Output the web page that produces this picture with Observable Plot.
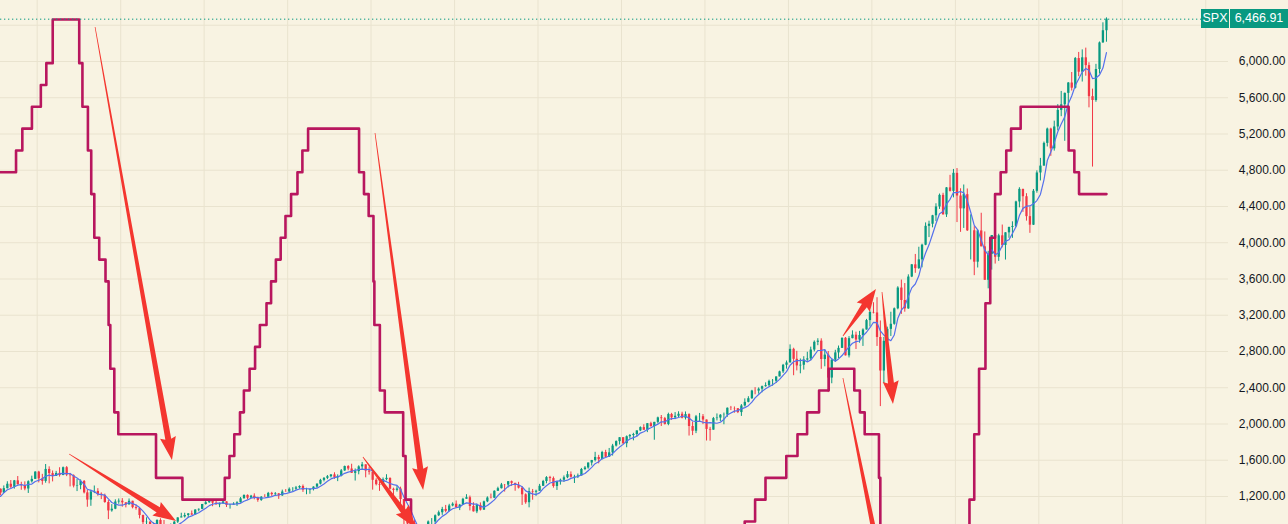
<!DOCTYPE html>
<html>
<head>
<meta charset="utf-8">
<script src="https://cdn.jsdelivr.net/npm/d3@7"></script>
<script src="https://cdn.jsdelivr.net/npm/@observablehq/plot@0.6"></script>
<style>
  html, body { margin: 0; padding: 0; background: #f8f3e2; }
  #wrap { position: relative; width: 1288px; height: 524px; overflow: hidden; background: #f8f3e2; font-family: "Liberation Sans", "DejaVu Sans", sans-serif; }
  .badge { position: absolute; height: 19px; line-height: 19px; color: #ffffff; background: #089981; font-size: 12.5px; text-align: center; }
</style>
</head>
<body>
<div id="wrap"></div>
<script>
// ---------------- data ----------------
// Monthly S&P 500 candles, Oct 1998 .. Aug 2025
const firstMonth = "1998-10-01";
const spxOpen = [
  1017.0,1098.7,1163.6,
  1229.2,1279.6,1238.3,1286.4,1335.2,1301.8,1372.7,1328.7,1320.4,1282.7,1362.9,1389.0,
  1469.3,1394.5,1366.4,1498.6,1452.4,1420.6,1454.6,1430.8,1517.7,1436.5,1429.4,1315.2,
  1320.3,1366.0,1239.9,1160.3,1249.5,1255.8,1224.4,1211.2,1133.6,1040.9,1059.8,1139.5,
  1148.1,1130.2,1106.7,1147.4,1076.9,1067.1,989.8,911.6,916.1,815.3,885.8,936.3,
  879.8,855.7,841.2,848.2,916.9,963.6,974.5,990.3,1008.0,996.0,1050.7,1058.2,
  1111.9,1131.1,1144.9,1126.2,1107.3,1120.7,1140.8,1101.7,1104.2,1114.6,1130.2,1173.8,
  1211.9,1181.3,1203.6,1180.6,1156.9,1191.5,1191.3,1234.2,1220.3,1228.8,1207.0,1249.5,
  1248.3,1280.1,1280.7,1294.8,1310.6,1270.1,1270.2,1276.7,1303.8,1335.9,1377.9,1400.6,
  1418.3,1438.2,1406.8,1420.9,1482.4,1530.6,1503.4,1455.3,1474.0,1526.8,1549.4,1481.1,
  1468.4,1378.6,1330.6,1322.7,1385.6,1400.4,1280.0,1267.4,1282.8,1166.4,968.8,896.2,
  903.3,825.9,735.1,797.9,872.8,919.1,919.3,987.5,1020.6,1057.1,1036.2,1095.6,
  1115.1,1073.9,1104.5,1169.4,1186.7,1089.4,1030.7,1101.6,1049.3,1141.2,1183.3,1180.6,
  1257.6,1286.1,1327.2,1325.8,1363.6,1345.2,1320.6,1292.3,1218.9,1131.4,1253.3,1247.0,
  1257.6,1312.4,1365.7,1408.5,1397.9,1310.3,1362.2,1379.3,1406.6,1440.7,1412.2,1416.2,
  1426.2,1498.1,1514.7,1569.2,1597.6,1630.7,1606.3,1685.7,1633.0,1681.6,1756.5,1805.8,
  1848.4,1782.6,1859.5,1872.3,1883.9,1923.6,1960.2,1930.7,2003.4,1972.3,2018.1,2067.6,
  2058.9,1995.0,2104.5,2067.9,2085.5,2107.4,2063.1,2104.0,1972.2,1920.0,2079.4,2080.4,
  2043.9,1940.2,1932.2,2059.7,2065.3,2096.9,2098.9,2173.6,2170.9,2168.3,2126.2,2198.8,
  2238.8,2278.9,2363.6,2362.7,2384.2,2411.8,2423.4,2470.3,2471.7,2519.4,2575.3,2647.6,
  2673.6,2823.8,2713.8,2640.9,2648.1,2705.3,2718.4,2816.3,2901.5,2914.0,2711.7,2760.2,
  2506.9,2704.1,2784.5,2834.4,2945.8,2752.1,2941.8,2980.4,2926.5,2976.7,3037.6,3141.0,
  3230.8,3225.5,2954.2,2584.6,2912.4,3044.3,3100.3,3271.1,3500.3,3363.0,3270.0,3621.6,
  3756.1,3714.2,3811.2,3972.9,4181.2,4204.1,4297.5,4395.3,4522.7,4307.5,4605.4,4567.0,
  4766.2,4515.6,4373.9,4530.4,4131.9,4132.2,3785.4,4130.3,3955.0,3585.6,3872.0,4080.1,
  3839.5,4076.6,3970.2,4109.3,4169.5,4179.8,4450.4,4589.0,4507.7,4288.1,4193.8,4567.8,
  4769.8,4845.7,5096.3,5254.4,5035.7,5277.5,5460.5,5522.3,5648.4,5762.5,5705.5,6032.4,
  5881.6,6040.5,5954.5,5611.9,5569.1,5911.7,6205.0,6339.4
];
const spxHigh = [
  1103.8,1193.0,1244.9,
  1280.4,1283.8,1316.6,1362.8,1376.0,1376.8,1420.3,1357.2,1361.7,1373.2,1424.6,1473.1,
  1478.0,1444.6,1552.9,1527.2,1481.5,1477.3,1517.3,1525.2,1530.1,1454.8,1438.5,1389.1,
  1383.4,1376.4,1267.4,1269.3,1315.9,1286.6,1239.8,1226.3,1155.4,1110.6,1163.4,1173.0,
  1176.6,1130.2,1173.0,1147.8,1106.6,1070.0,994.5,965.0,924.0,907.4,941.8,954.3,
  935.1,864.6,895.9,924.2,965.4,1015.3,1015.4,1011.0,1040.3,1053.8,1063.7,1112.6,
  1155.4,1159.0,1163.2,1150.6,1127.7,1146.3,1140.8,1109.7,1131.5,1142.1,1188.5,1217.3,
  1217.8,1212.4,1229.1,1191.9,1199.6,1219.6,1245.2,1245.9,1243.1,1233.3,1270.6,1275.8,
  1294.9,1297.6,1310.9,1318.2,1326.7,1290.7,1280.4,1306.7,1340.3,1389.5,1407.9,1431.8,
  1441.6,1461.6,1438.9,1498.0,1535.6,1540.6,1555.9,1503.9,1538.7,1576.1,1550.0,1523.6,
  1471.8,1396.0,1359.7,1404.6,1440.2,1404.1,1292.2,1313.2,1303.0,1167.0,1007.5,918.9,
  943.8,875.0,833.0,877.6,930.2,956.2,996.7,1039.5,1080.2,1101.4,1113.7,1130.4,
  1150.5,1112.4,1180.2,1219.8,1205.1,1131.2,1115.8,1129.2,1148.7,1196.1,1227.1,1262.6,
  1302.7,1344.1,1332.3,1364.6,1370.6,1345.2,1356.5,1307.4,1229.3,1293.0,1277.6,1269.4,
  1333.5,1378.0,1419.2,1422.4,1415.3,1363.5,1391.7,1426.7,1474.5,1471.0,1434.3,1448.0,
  1509.9,1530.9,1570.3,1597.6,1687.2,1654.2,1698.8,1709.7,1730.0,1775.2,1813.6,1849.4,
  1850.8,1867.9,1884.0,1897.3,1924.0,1968.2,1991.4,2005.0,2019.3,2018.2,2075.8,2093.6,
  2072.4,2119.6,2117.5,2125.9,2134.7,2129.9,2132.8,2112.7,2020.9,2094.3,2116.5,2104.3,
  2044.0,1963.0,2072.2,2111.1,2103.5,2120.6,2177.1,2193.8,2187.9,2169.6,2214.1,2277.5,
  2301.0,2371.5,2401.0,2398.2,2418.7,2453.8,2484.0,2490.9,2519.4,2583.0,2657.7,2695.0,
  2872.9,2836.0,2801.9,2717.5,2742.2,2791.5,2848.0,2916.5,2940.9,2939.9,2815.2,2800.2,
  2709.0,2813.5,2860.3,2949.5,2954.1,2964.2,3028.0,3013.6,3022.0,3050.1,3154.3,3247.9,
  3337.8,3393.5,3136.7,2954.9,3068.7,3233.1,3280.0,3514.8,3588.1,3549.9,3646.0,3760.2,
  3870.9,3950.4,3983.9,4218.8,4238.0,4302.4,4430.0,4537.4,4545.9,4608.1,4743.8,4808.9,
  4818.6,4595.3,4637.3,4593.5,4307.7,4177.5,4140.2,4325.3,4119.3,3905.4,4080.1,4101.0,
  4094.2,4195.4,4110.8,4170.1,4231.1,4458.5,4607.1,4590.0,4541.3,4393.6,4587.6,4793.3,
  4931.1,5111.1,5264.9,5264.0,5341.9,5523.6,5669.7,5651.6,5767.4,5878.5,6044.2,6100.0,
  6128.2,6147.4,5986.1,5695.3,5968.6,6215.1,6427.0,6481.3
];
const spxLow = [
  923.3,1096.0,1136.9,
  1205.5,1207.8,1234.7,1282.6,1287.1,1281.4,1328.6,1268.7,1263.2,1233.7,1348.6,1387.4,
  1350.1,1325.1,1346.6,1339.4,1361.1,1420.6,1413.9,1430.8,1419.4,1305.8,1294.9,1254.1,
  1274.6,1228.3,1081.2,1092.0,1232.0,1203.0,1165.5,1124.9,944.8,1026.8,1054.3,1114.5,
  1081.7,1074.4,1106.7,1063.5,1049.0,952.9,775.7,833.4,800.2,768.6,872.1,871.8,
  840.3,806.3,788.9,847.9,902.8,963.6,962.1,960.8,990.4,996.0,1031.2,1055.0,
  1105.1,1124.4,1087.2,1107.2,1076.3,1113.3,1078.8,1060.7,1102.8,1090.2,1127.6,1173.8,
  1163.8,1180.9,1163.7,1136.2,1146.2,1188.3,1191.3,1201.1,1205.4,1168.2,1201.1,1246.6,
  1245.7,1253.6,1268.4,1280.7,1245.3,1219.3,1224.5,1261.3,1290.9,1327.1,1361.0,1385.9,
  1404.0,1389.1,1364.0,1416.4,1476.7,1484.2,1454.3,1370.6,1439.3,1489.6,1406.1,1435.6,
  1270.1,1316.8,1257.0,1319.0,1373.1,1272.0,1200.4,1248.6,1106.4,839.8,741.0,815.7,
  804.3,734.5,666.8,783.3,866.1,888.9,869.3,978.5,992.0,1020.0,1029.4,1085.9,
  1071.6,1044.5,1101.4,1169.4,1040.8,1028.3,1010.9,1039.7,1048.0,1131.9,1173.0,1180.6,
  1257.6,1282.9,1249.1,1294.7,1311.8,1258.1,1282.9,1101.5,1114.2,1074.8,1158.7,1202.4,
  1257.6,1312.4,1340.0,1357.4,1292.0,1266.7,1325.4,1354.7,1396.6,1403.3,1343.4,1398.1,
  1426.2,1485.0,1501.5,1536.0,1581.3,1560.3,1604.6,1627.5,1633.0,1646.5,1746.2,1768.0,
  1770.5,1737.9,1834.4,1814.4,1859.8,1916.0,1930.7,1904.8,1964.0,1820.7,2001.0,1972.6,
  1988.1,1980.9,2039.7,2048.4,2067.9,2056.3,2044.0,1867.0,1871.9,1893.7,2019.4,1993.3,
  1812.3,1810.1,1931.0,2033.8,2025.9,1991.7,2074.0,2147.6,2119.1,2114.7,2083.8,2187.4,
  2233.0,2271.7,2322.3,2329.0,2344.5,2405.7,2407.7,2417.4,2446.6,2519.4,2557.5,2605.5,
  2673.6,2532.7,2585.9,2553.8,2594.6,2692.0,2699.0,2796.3,2864.1,2603.5,2631.1,2346.6,
  2444.0,2681.8,2722.3,2834.4,2750.5,2728.8,2940.0,2822.1,2891.9,2855.9,3036.0,3070.3,
  3214.6,2855.8,2191.9,2447.5,2766.6,2965.7,3090.0,3260.0,3209.5,3233.9,3265.0,3615.0,
  3662.7,3705.0,3723.3,3967.0,4056.9,4164.4,4233.1,4367.7,4305.9,4278.9,4560.0,4495.1,
  4222.6,4114.7,4157.9,4124.3,3810.3,3636.9,3721.6,3954.5,3584.1,3491.6,3698.2,3764.5,
  3794.3,3943.1,3808.9,4049.0,4048.3,4166.2,4385.1,4335.3,4238.6,4103.8,4190.0,4546.5,
  4682.1,4845.0,5056.8,4953.6,5011.1,5234.3,5391.0,5119.3,5402.6,5674.0,5696.5,5832.3,
  5773.3,5837.7,5488.7,4835.0,5550.0,5861.4,6201.0,6212.7
];
const spxClose = [
  1098.7,1163.6,1229.2,
  1279.6,1238.3,1286.4,1335.2,1301.8,1372.7,1328.7,1320.4,1282.7,1362.9,1389.0,1469.3,
  1394.5,1366.4,1498.6,1452.4,1420.6,1454.6,1430.8,1517.7,1436.5,1429.4,1315.2,1320.3,
  1366.0,1239.9,1160.3,1249.5,1255.8,1224.4,1211.2,1133.6,1040.9,1059.8,1139.5,1148.1,
  1130.2,1106.7,1147.4,1076.9,1067.1,989.8,911.6,916.1,815.3,885.8,936.3,879.8,
  855.7,841.2,848.2,916.9,963.6,974.5,990.3,1008.0,996.0,1050.7,1058.2,1111.9,
  1131.1,1144.9,1126.2,1107.3,1120.7,1140.8,1101.7,1104.2,1114.6,1130.2,1173.8,1211.9,
  1181.3,1203.6,1180.6,1156.9,1191.5,1191.3,1234.2,1220.3,1228.8,1207.0,1249.5,1248.3,
  1280.1,1280.7,1294.8,1310.6,1270.1,1270.2,1276.7,1303.8,1335.9,1377.9,1400.6,1418.3,
  1438.2,1406.8,1420.9,1482.4,1530.6,1503.4,1455.3,1474.0,1526.8,1549.4,1481.1,1468.4,
  1378.6,1330.6,1322.7,1385.6,1400.4,1280.0,1267.4,1282.8,1166.4,968.8,896.2,903.3,
  825.9,735.1,797.9,872.8,919.1,919.3,987.5,1020.6,1057.1,1036.2,1095.6,1115.1,
  1073.9,1104.5,1169.4,1186.7,1089.4,1030.7,1101.6,1049.3,1141.2,1183.3,1180.6,1257.6,
  1286.1,1327.2,1325.8,1363.6,1345.2,1320.6,1292.3,1218.9,1131.4,1253.3,1247.0,1257.6,
  1312.4,1365.7,1408.5,1397.9,1310.3,1362.2,1379.3,1406.6,1440.7,1412.2,1416.2,1426.2,
  1498.1,1514.7,1569.2,1597.6,1630.7,1606.3,1685.7,1633.0,1681.6,1756.5,1805.8,1848.4,
  1782.6,1859.5,1872.3,1883.9,1923.6,1960.2,1930.7,2003.4,1972.3,2018.1,2067.6,2058.9,
  1995.0,2104.5,2067.9,2085.5,2107.4,2063.1,2104.0,1972.2,1920.0,2079.4,2080.4,2043.9,
  1940.2,1932.2,2059.7,2065.3,2096.9,2098.9,2173.6,2170.9,2168.3,2126.2,2198.8,2238.8,
  2278.9,2363.6,2362.7,2384.2,2411.8,2423.4,2470.3,2471.7,2519.4,2575.3,2647.6,2673.6,
  2823.8,2713.8,2640.9,2648.1,2705.3,2718.4,2816.3,2901.5,2914.0,2711.7,2760.2,2506.9,
  2704.1,2784.5,2834.4,2945.8,2752.1,2941.8,2980.4,2926.5,2976.7,3037.6,3141.0,3230.8,
  3225.5,2954.2,2584.6,2912.4,3044.3,3100.3,3271.1,3500.3,3363.0,3270.0,3621.6,3756.1,
  3714.2,3811.2,3972.9,4181.2,4204.1,4297.5,4395.3,4522.7,4307.5,4605.4,4567.0,4766.2,
  4515.6,4373.9,4530.4,4131.9,4132.2,3785.4,4130.3,3955.0,3585.6,3872.0,4080.1,3839.5,
  4076.6,3970.2,4109.3,4169.5,4179.8,4450.4,4589.0,4507.7,4288.1,4193.8,4567.8,4769.8,
  4845.7,5096.3,5254.4,5035.7,5277.5,5460.5,5522.3,5648.4,5762.5,5705.5,6032.4,5881.6,
  6040.5,5954.5,5611.9,5569.1,5911.7,6205.0,6339.4,6466.91
];

// Fed funds target rate (upper bound), change dates
const fedDates = [
  "1998-11-17","1999-06-30","1999-08-24","1999-11-16","2000-02-02","2000-03-21","2000-05-16",
  "2001-01-03","2001-01-31","2001-03-20","2001-04-18","2001-05-15","2001-06-27","2001-08-21",
  "2001-09-17","2001-10-02","2001-11-06","2001-12-11","2002-11-06","2003-06-25",
  "2004-06-30","2004-08-10","2004-09-21","2004-11-10","2004-12-14","2005-02-02","2005-03-22",
  "2005-05-03","2005-06-30","2005-08-09","2005-09-20","2005-11-01","2005-12-13","2006-01-31",
  "2006-03-28","2006-05-10","2006-06-29","2007-09-18","2007-10-31","2007-12-11","2008-01-22",
  "2008-01-30","2008-03-18","2008-04-30","2008-10-08","2008-10-29","2008-12-16",
  "2015-12-16","2016-12-14","2017-03-15","2017-06-14","2017-12-13","2018-03-21","2018-06-13",
  "2018-09-26","2018-12-19","2019-07-31","2019-09-18","2019-10-30","2020-03-03","2020-03-15",
  "2022-03-16","2022-05-04","2022-06-15","2022-07-27","2022-09-21","2022-11-02","2022-12-14",
  "2023-02-01","2023-03-22","2023-05-03","2023-07-26","2024-09-18","2024-11-07","2024-12-18",
  "2025-08-15"
];
const fedRates = [
  4.75,5.00,5.25,5.50,5.75,6.00,6.50,
  6.00,5.50,5.00,4.50,4.00,3.75,3.50,
  3.00,2.50,2.00,1.75,1.25,1.00,
  1.25,1.50,1.75,2.00,2.25,2.50,2.75,
  3.00,3.25,3.50,3.75,4.00,4.25,4.50,
  4.75,5.00,5.25,4.75,4.50,4.25,3.50,
  3.00,2.25,2.00,1.50,1.00,0.25,
  0.50,0.75,1.00,1.25,1.50,1.75,2.00,
  2.25,2.50,2.25,2.00,1.75,1.25,0.25,
  0.50,1.00,1.75,2.50,3.25,4.00,4.50,
  4.75,5.00,5.25,5.50,5.00,4.75,4.50,
  4.50
];

// Right-hand price scale: grid levels, visible labels, last price
const priceGrid = [1200,1600,2000,2400,2800,3200,3600,4000,4400,4800,5200,5600,6000,6400];
const priceLabels = [1200,1600,2000,2400,2800,3200,3600,4000,4400,4800,5200,5600,6000];
const gridYears = [2000,2002,2004,2006,2008,2010,2012,2014,2016,2018,2020,2022,2024,2026,2028];
const symbol = "SPX";
const lastPrice = 6466.91;

// Annotation arrows (date, price) start -> tip
const arrowStart = [["2001-05-26",6375],["2000-10-11",1663],["2008-02-09",5206],["2007-10-26",1630],["2019-04-27",2966],["2020-04-03",3451],["2019-04-27",2502]];
const arrowEnd   = [["2003-03-30",1597],["2003-05-05",924],["2009-04-05",1266],["2009-02-02",847],["2020-02-10",3484],["2020-07-08",2215],["2020-05-08",163]];

// ---------------- build ----------------
const months = d3.utcMonth.range(new Date(firstMonth), new Date("2025-09-01"));
const candles = months.map((m, i) => ({
  date: d3.utcDay.offset(m, 14), open: spxOpen[i], high: spxHigh[i], low: spxLow[i], close: spxClose[i]
}));

// overlay scale for the rate line (hidden left scale of the original)
const rateToPrice = r => 1165 + (r - 1) * 963.3;
const fed = fedDates.map((d, i) => ({date: new Date(d), rate: fedRates[i]}));

const UP = "#089981", DOWN = "#f23645";
const col = d => d.close >= d.open ? UP : DOWN;

const plot = Plot.plot({
  width: 1288, height: 524,
  marginLeft: 0, marginRight: 60, marginTop: 0, marginBottom: 0,
  style: {background: "transparent", fontFamily: "'Liberation Sans', sans-serif", fontSize: "12px", color: "#131722"},
  x: {type: "utc", domain: [new Date("1999-02-14"), new Date("2028-07-18")], axis: null},
  y: {domain: [891, 6673], axis: null},
  marks: [
    Plot.gridY(priceGrid, {stroke: "#e9e3cf", strokeOpacity: 1}),
    Plot.gridX(gridYears.map(y => new Date(Date.UTC(y, 0, 1))), {stroke: "#e9e3cf", strokeOpacity: 1}),
    Plot.ruleX(candles, {x: "date", y1: "low", y2: "high", stroke: col, strokeWidth: 1, clip: true}),
    Plot.ruleX(candles, {x: "date", y1: "open", y2: "close", stroke: col, strokeWidth: 2.3, clip: true}),
    Plot.lineY(candles, Plot.windowY({k: 5, anchor: "end", reduce: "mean"}, {x: "date", y: "close", stroke: "#5470ec", strokeWidth: 1.2, clip: true})),
    Plot.line(fed, {x: "date", y: d => rateToPrice(d.rate), curve: "step-after", stroke: "#b8165e", strokeWidth: 2.6, strokeLinejoin: "round", clip: true}),
    Plot.ruleY([lastPrice], {stroke: UP, strokeWidth: 1, strokeDasharray: "1.3,2.7"}),
    Plot.axisY(priceLabels, {anchor: "right", tickSize: 0, tickPadding: 3, dx: 54, textAnchor: "end",
      tickFormat: d => d3.format(",.2f")(d), fill: "#131722", fontSize: 12})
  ]
});

const wrap = document.getElementById("wrap");
wrap.appendChild(plot);

// arrows drawn through the plot's scales
const xs = plot.scale("x"), ys = plot.scale("y");
const svg = d3.select(plot.tagName.toLowerCase() === "svg" ? plot : plot.querySelector("svg"));
function arrowPoints(x0, y0, x1, y1) {
  const dx = x1 - x0, dy = y1 - y0, L = Math.hypot(dx, dy);
  const ux = dx / L, uy = dy / L, nx = -uy, ny = ux;
  const hl = Math.min(21, L * 0.35), hw = 8, sw = 3, tw = 0.35;
  const bx = x1 - ux * hl, by = y1 - uy * hl;
  return [[x0 + nx * tw, y0 + ny * tw], [bx + nx * sw, by + ny * sw], [bx - ux * 2 + nx * hw, by - uy * 2 + ny * hw], [x1, y1],
          [bx - ux * 2 - nx * hw, by - uy * 2 - ny * hw], [bx - nx * sw, by - ny * sw], [x0 - nx * tw, y0 - ny * tw]];
}
arrowStart.forEach((s, i) => {
  const e = arrowEnd[i];
  const pts = arrowPoints(xs.apply(new Date(s[0])), ys.apply(s[1]), xs.apply(new Date(e[0])), ys.apply(e[1]));
  svg.append("path").attr("d", "M" + pts.map(p => p.join(",")).join("L") + "Z").attr("fill", "#f4362f");
});

// last-price badge
const by = ys.apply(lastPrice);
const b1 = document.createElement("div");
b1.className = "badge"; b1.textContent = symbol;
Object.assign(b1.style, {left: "1201px", width: "28px", top: (by - 9.5) + "px"});
const b2 = document.createElement("div");
b2.className = "badge"; b2.textContent = d3.format(",.2f")(lastPrice);
Object.assign(b2.style, {left: "1230px", width: "58px", top: (by - 9.5) + "px"});
wrap.appendChild(b1); wrap.appendChild(b2);
</script>
</body>
</html>
